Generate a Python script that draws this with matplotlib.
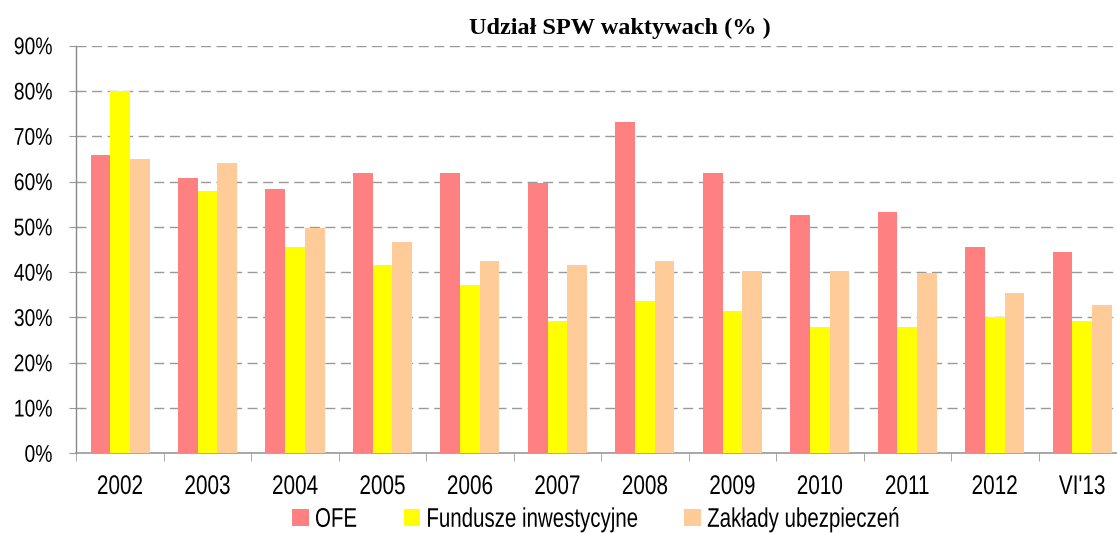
import matplotlib
matplotlib.use("Agg")
import matplotlib.pyplot as plt
import numpy as np
from matplotlib.ticker import FixedLocator, FuncFormatter
from matplotlib.patches import Rectangle
from matplotlib.patheffects import AbstractPathEffect
from matplotlib.transforms import Affine2D

categories = ["2002", "2003", "2004", "2005", "2006", "2007", "2008", "2009",
              "2010", "2011", "2012", "VI'13"]
ofe = [65.9, 60.8, 58.4, 61.9, 61.9, 59.7, 73.1, 61.9, 52.6, 53.3, 45.5, 44.4]
fundusze = [80.0, 57.9, 45.5, 41.6, 37.2, 29.2, 33.6, 31.4, 27.9, 27.9, 30.1, 29.2]
zaklady = [65.0, 64.1, 49.7, 46.7, 42.5, 41.6, 42.5, 40.3, 40.3, 39.8, 35.4, 32.7]
series_names = ["OFE", "Fundusze inwestycyjne", "Zakłady ubezpieczeń"]
title = "Udział SPW waktywach (% )"

colors = ["#FF8080", "#FFFF00", "#FFCC99"]
SANS = "Liberation Sans"


class Condense(AbstractPathEffect):
    """Draw text glyphs horizontally narrowed (like Arial Narrow)."""

    def __init__(self, sx, anchor="center"):
        super().__init__()
        self.sx = sx
        self.anchor = anchor

    def draw_path(self, renderer, gc, tpath, affine, rgbFace=None):
        xs = tpath.vertices[:, 0]
        if len(xs) == 0:
            return
        if self.anchor == "center":
            x0 = (xs.min() + xs.max()) / 2
        elif self.anchor == "right":
            x0 = xs.max()
        else:
            x0 = xs.min()
        t = Affine2D().translate(-x0, 0).scale(self.sx, 1).translate(x0, 0) + affine
        renderer.draw_path(gc, tpath, t, rgbFace)


W, H = 1117, 533
fig = plt.figure(figsize=(W / 100, H / 100), dpi=100)
ax = fig.add_axes([76.3 / W, (H - 453.3) / H, (1126 - 76.3) / W, 407.6 / H])

x = np.arange(len(categories))
bw = 0.225
for i, (vals, c) in enumerate(zip([ofe, fundusze, zaklady], colors)):
    ax.bar(x + (i - 1) * bw, vals, width=bw, color=c, linewidth=0, zorder=3)

ax.set_xlim(-0.5, len(categories) - 0.5)
ax.set_ylim(0, 90)
ax.set_yticks(np.arange(0, 91, 10))
ax.yaxis.set_major_formatter(FuncFormatter(lambda v, p: f"{int(round(v))}%"))
ax.grid(axis="y", color="#999999", linestyle=(0, (7.2, 4.0)), linewidth=1.0, zorder=1)
ax.set_axisbelow(True)

for s in ["top", "right"]:
    ax.spines[s].set_visible(False)
ax.spines["left"].set_color("#888888")
ax.spines["bottom"].set_color("#999999")
ax.spines["left"].set_linewidth(1.0)
ax.spines["bottom"].set_linewidth(1.2)

ax.set_xticks(x)
ax.set_xticklabels(categories)
ax.xaxis.set_minor_locator(FixedLocator(np.arange(-0.5, len(categories), 1.0)))
ax.tick_params(axis="x", which="major", length=0, pad=14.9)
ax.tick_params(axis="x", which="minor", length=6, color="#999999", direction="out")
ax.tick_params(axis="y", length=5, color="#999999", pad=12)

for lab in ax.get_xticklabels():
    lab.set_fontfamily(SANS)
    lab.set_fontsize(19.4)
    lab.set_path_effects([Condense(0.77, "center")])
for lab in ax.get_yticklabels():
    lab.set_fontfamily(SANS)
    lab.set_fontsize(17.4)
    lab.set_path_effects([Condense(0.80, "right")])

fig.text(620 / W, 1 - 28 / H, title, ha="center", va="center",
         fontfamily="Liberation Serif", fontweight="bold", fontsize=17.5)

# legend (bottom, one row)
renderer = fig.canvas.get_renderer()
sx_leg = 0.76
sq = 16.7
x_cursor = 292.3
base_y = 526.8
for name, c in zip(series_names, colors):
    fig.patches.append(Rectangle((x_cursor / W, (H - (base_y - 0.9)) / H), sq / W, sq / H,
                                 transform=fig.transFigure, facecolor=c,
                                 edgecolor="none"))
    t = fig.text((x_cursor + sq + 6) / W, (H - base_y) / H, name, ha="left",
                 va="baseline", fontsize=19.4, fontfamily=SANS,
                 path_effects=[Condense(sx_leg, "left")])
    w = t.get_window_extent(renderer).width * sx_leg
    x_cursor += sq + 6 + w + 46.6

fig.savefig("out.png", dpi=100)
